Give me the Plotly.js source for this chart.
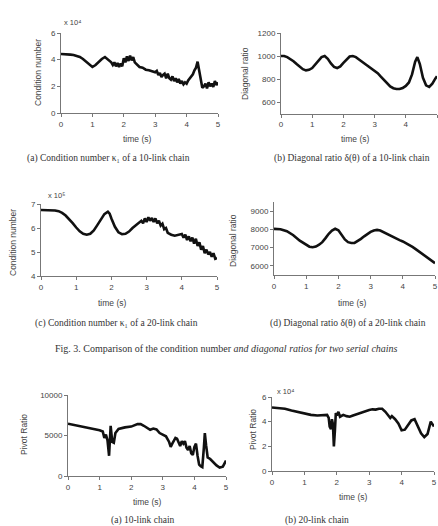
<!DOCTYPE html>
<html>
<head>
<meta charset="utf-8">
<script src="https://cdn.plot.ly/plotly-3.0.1.min.js"></script>
<style>html,body{margin:0;padding:0;background:#fff;}#chart{width:438px;height:526px;}</style>
</head>
<body>
<div id="chart"></div>
<script>
// (a) Condition number of a 10-link chain (x 10^4)
const tA = [0,0.1,0.2,0.3,0.4,0.5,0.6,0.7,0.8,0.9,1.0,1.1,1.2,1.3,1.4,1.5,1.6,1.65,1.7,1.75,1.8,1.85,1.9,1.95,2.0,2.05,2.1,2.15,2.2,2.25,2.3,2.35,2.4,2.5,2.6,2.7,2.8,2.9,3.0,3.05,3.1,3.15,3.2,3.25,3.3,3.35,3.4,3.45,3.5,3.55,3.6,3.65,3.7,3.75,3.8,3.85,3.9,3.95,4.0,4.05,4.1,4.15,4.2,4.25,4.3,4.35,4.4,4.45,4.5,4.55,4.6,4.65,4.7,4.75,4.8,4.85,4.9,4.95,5.0];
const condA = [4.42,4.42,4.40,4.38,4.35,4.3,4.2,4.05,3.85,3.6,3.45,3.6,3.85,4.05,4.2,4.0,3.8,3.6,3.8,3.5,3.75,3.45,3.7,3.5,4.1,3.8,4.25,3.9,4.3,3.95,4.2,3.8,3.7,3.45,3.4,3.25,3.2,3.1,3.05,3.15,2.85,3.0,2.7,2.85,2.95,2.6,2.95,2.6,2.5,2.75,2.4,2.6,2.3,2.55,2.2,2.4,2.15,2.3,2.2,2.45,2.6,2.7,2.9,3.2,3.4,3.85,3.2,2.4,1.9,2.0,2.2,1.85,2.3,2.0,2.2,1.95,2.4,2.1,2.3];

// (b) Diagonal ratio of a 10-link chain
const tB = [0,0.1,0.2,0.3,0.4,0.5,0.6,0.7,0.8,0.9,1.0,1.1,1.2,1.3,1.4,1.5,1.6,1.7,1.8,1.9,2.0,2.1,2.2,2.3,2.4,2.5,2.6,2.7,2.8,2.9,3.0,3.1,3.2,3.3,3.4,3.5,3.6,3.7,3.8,3.9,4.0,4.1,4.2,4.3,4.37,4.45,4.55,4.65,4.75,4.85,4.95,5.0];
const diagB = [1000,1000,990,975,955,930,905,885,875,880,895,925,960,990,1000,975,935,905,895,910,940,970,995,1000,990,970,950,930,910,895,875,850,820,790,760,735,720,713,713,722,740,770,840,950,990,930,810,745,732,760,805,825];

// (c) Condition number of a 20-link chain (x 10^5)
const tC = [0,0.1,0.2,0.3,0.4,0.5,0.6,0.7,0.8,0.9,1.0,1.1,1.2,1.3,1.4,1.5,1.6,1.7,1.8,1.9,1.95,2.0,2.1,2.2,2.3,2.4,2.5,2.6,2.7,2.8,2.85,2.9,2.95,3.0,3.05,3.1,3.15,3.2,3.25,3.3,3.35,3.4,3.45,3.5,3.55,3.6,3.7,3.8,3.9,4.0,4.05,4.1,4.15,4.2,4.25,4.3,4.35,4.4,4.45,4.5,4.55,4.6,4.65,4.7,4.75,4.8,4.85,4.9,4.95,5.0];
const condC = [6.75,6.75,6.75,6.74,6.73,6.7,6.63,6.52,6.38,6.2,6.02,5.86,5.76,5.72,5.76,5.9,6.12,6.35,6.58,6.68,6.6,6.4,6.05,5.82,5.74,5.76,5.85,6.0,6.12,6.22,6.3,6.2,6.4,6.25,6.45,6.3,6.42,6.25,6.4,6.2,6.3,6.1,6.18,5.95,6.0,5.8,5.72,5.68,5.7,5.75,5.6,5.72,5.5,5.65,5.45,5.6,5.35,5.55,5.25,5.4,5.1,5.25,4.95,5.1,4.9,5.0,4.8,4.95,4.72,4.75];

// (d) Diagonal ratio of a 20-link chain
const tD = [0,0.2,0.4,0.6,0.8,1.0,1.1,1.2,1.3,1.4,1.5,1.6,1.7,1.8,1.9,2.0,2.1,2.2,2.3,2.4,2.5,2.6,2.7,2.8,2.9,3.0,3.1,3.2,3.3,3.4,3.5,3.6,3.7,3.8,3.9,4.0,4.1,4.2,4.3,4.4,4.5,4.6,4.7,4.8,4.9,5.0];
const diagD = [8030,8010,7900,7680,7380,7130,7050,7020,7060,7160,7300,7520,7760,7930,8030,7950,7700,7450,7300,7250,7260,7350,7480,7620,7750,7860,7940,7970,7940,7850,7740,7640,7560,7480,7410,7340,7250,7150,7040,6920,6790,6650,6510,6370,6250,6150];

// Pivot ratio (a) 10-link chain
const tE = [0,0.2,0.4,0.6,0.8,1.0,1.1,1.15,1.2,1.25,1.3,1.35,1.4,1.45,1.5,1.6,1.8,2.0,2.2,2.3,2.4,2.5,2.6,2.7,2.8,2.9,3.0,3.1,3.2,3.25,3.3,3.4,3.45,3.5,3.55,3.6,3.65,3.7,3.75,3.8,3.85,3.9,3.95,4.0,4.05,4.1,4.15,4.2,4.25,4.3,4.33,4.37,4.42,4.5,4.6,4.7,4.8,4.9,5.0];
const pivotE = [6450,6300,6180,6000,5850,5650,5500,4700,5100,4400,2500,6200,4200,4100,5300,5800,6000,6100,6400,6400,6200,5900,5700,5850,5750,5300,5050,4900,4200,3600,4000,4700,4600,4100,3700,4300,4000,4300,3500,3200,3700,2800,2600,3600,4000,2500,1400,1200,1100,3500,5300,3800,2300,2100,1700,1300,1050,1150,1900];

// Pivot ratio (b) 20-link chain (x 10^4)
const tF = [0,0.2,0.4,0.6,0.8,1.0,1.2,1.4,1.6,1.7,1.75,1.78,1.82,1.85,1.88,1.91,1.94,1.97,2.0,2.05,2.1,2.2,2.3,2.4,2.5,2.6,2.7,2.8,2.9,3.0,3.1,3.2,3.3,3.4,3.5,3.6,3.65,3.7,3.8,3.9,4.0,4.1,4.2,4.3,4.4,4.5,4.6,4.7,4.8,4.85,4.9,4.95,5.0];
const pivotF = [5.15,5.12,5.05,4.9,4.78,4.62,4.55,4.5,4.5,4.55,4.3,3.6,3.4,4.2,3.8,2.0,3.2,4.7,4.5,4.8,4.4,4.55,4.45,4.4,4.5,4.6,4.7,4.8,4.9,4.95,5.0,4.98,5.05,5.05,4.8,4.4,4.3,4.45,4.2,3.85,3.3,3.35,3.75,4.1,4.2,3.6,3.05,2.75,3.0,3.5,4.0,3.8,3.6];

const W = 438, H = 526;
const px = v => v / W;
const py = v => 1 - v / H;

const lineStyle = {color: '#111', width: 2.6};
const series = [[tA, condA], [tB, diagB], [tC, condC], [tD, diagD], [tE, pivotE], [tF, pivotF]];
const data = series.map((s, i) => ({
  x: s[0], y: s[1], type: 'scatter', mode: 'lines', line: lineStyle,
  xaxis: 'x' + (i === 0 ? '' : i + 1), yaxis: 'y' + (i === 0 ? '' : i + 1),
  showlegend: false, hoverinfo: 'skip'
}));

const tickFont = {family: 'Liberation Sans, Arial, sans-serif', size: 8, color: '#444'};
function xax(x0, x1, yAnchor) {
  return {domain: [px(x0), px(x1)], range: [0, 5], dtick: 1, tick0: 0, anchor: yAnchor,
    showline: true, linecolor: '#777', linewidth: 1, ticks: 'outside', ticklen: 3, tickcolor: '#777',
    showgrid: false, zeroline: false, tickfont: tickFont, fixedrange: true};
}
function yax(yTop, yBot, range, dtick, xAnchor) {
  return {domain: [py(yBot), py(yTop)], range: range, dtick: dtick, anchor: xAnchor,
    showline: true, linecolor: '#777', linewidth: 1, ticks: 'outside', ticklen: 3, tickcolor: '#777',
    showgrid: false, zeroline: false, tickfont: tickFont, tickformat: 'd', fixedrange: true};
}

const layout = {
  width: W, height: H, margin: {l: 0, r: 0, t: 0, b: 0},
  paper_bgcolor: '#fff', plot_bgcolor: '#fff', showlegend: false,
  xaxis: xax(61, 218, 'y'), yaxis: Object.assign(yax(33, 113, [0, 6], 2, 'x'), {tick0: 0}),
  xaxis2: xax(281, 437, 'y2'), yaxis2: Object.assign(yax(33, 113.5, [500, 1200], 200, 'x2'), {tick0: 600}),
  xaxis3: xax(41, 217, 'y3'), yaxis3: Object.assign(yax(204, 276, [4, 7], 1, 'x3'), {tick0: 4}),
  xaxis4: xax(274, 435, 'y4'), yaxis4: Object.assign(yax(202, 275, [5500, 9500], 1000, 'x4'), {tick0: 6000}),
  xaxis5: xax(68, 226, 'y5'), yaxis5: Object.assign(yax(395, 476, [0, 10000], 5000, 'x5'), {tick0: 0}),
  xaxis6: xax(272, 434, 'y6'), yaxis6: Object.assign(yax(397, 471, [0, 6], 2, 'x6'), {tick0: 0}),
  annotations: []
};

const sans = {family: 'Liberation Sans, Arial, sans-serif', size: 8.5, color: '#444'};
const serif = {family: 'Liberation Serif, Times New Roman, serif', size: 9.5, color: '#333'};
function ann(text, x, y, font, extra) {
  layout.annotations.push(Object.assign({text: text, x: px(x), y: py(y), xref: 'paper', yref: 'paper',
    showarrow: false, font: font, xanchor: 'center', yanchor: 'middle'}, extra || {}));
}
// y-axis titles
ann('Condition number', 38, 73, sans, {textangle: -90});
ann('Diagonal ratio', 245, 74, sans, {textangle: -90});
ann('Condition number', 13, 243, sans, {textangle: -90});
ann('Diagonal ratio', 233, 241, sans, {textangle: -90});
ann('Pivot Ratio', 24, 435, sans, {textangle: -90});
ann('Pivot Ratio', 253, 430, sans, {textangle: -90});
// x-axis titles
ann('time (s)', 137, 139, sans);
ann('time (s)', 355, 139, sans);
ann('time (s)', 112, 303, sans);
ann('time (s)', 352, 303, sans);
ann('time (s)', 147, 502, sans);
ann('time (s)', 353, 497, sans);
// exponents
const expFont = {family: 'Liberation Sans, DejaVu Sans, sans-serif', size: 7.5, color: '#444'};
ann('x 10\u2074', 62, 23, expFont, {xanchor: 'left'});
ann('x 10\u2075', 46, 195, expFont, {xanchor: 'left'});
ann('x 10\u2074', 275, 391, expFont, {xanchor: 'left'});
// captions
ann('(a) Condition number \u03BA\u2081 of a 10-link chain', 108, 158, serif);
ann('(b) Diagonal ratio \u03B4(\u03B8) of a 10-link chain', 352, 158, serif);
ann('(c) Condition number \u03BA\u2081 of a 20-link chain', 116, 323, serif);
ann('(d) Diagonal ratio \u03B4(\u03B8) of a 20-link chain', 348, 323, serif);
ann('Fig. 3. Comparison of the condition number <i>and diagonal ratios for two serial chains</i>', 226, 348, Object.assign({}, serif, {size: 10}));
ann('(a) 10-link chain', 143, 520, serif);
ann('(b) 20-link chain', 317, 520, serif);

Plotly.newPlot('chart', data, layout, {staticPlot: true, displayModeBar: false});
</script>
</body>
</html>
